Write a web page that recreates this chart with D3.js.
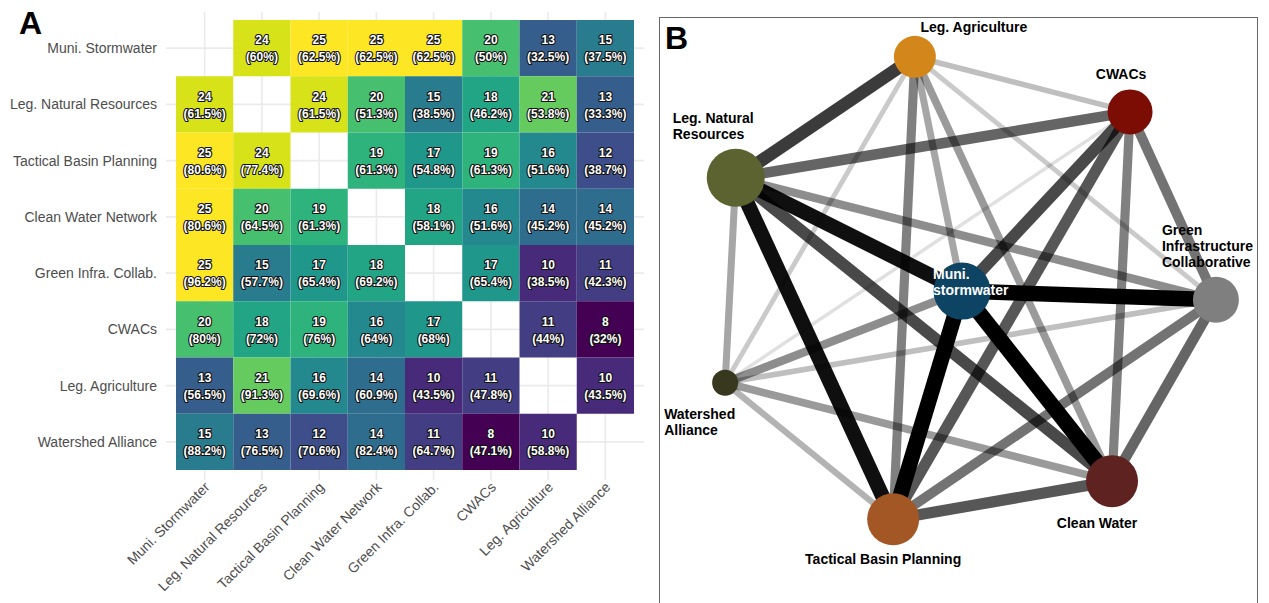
<!DOCTYPE html>
<html>
<head>
<meta charset="utf-8">
<script src="https://cdn.jsdelivr.net/npm/d3@7"></script>
<style>
  body { margin: 0; background: #fff; }
  svg { display: block; font-family: "Liberation Sans", Arial, Helvetica, sans-serif; }
</style>
</head>
<body>
<svg id="chart" width="1269" height="603"></svg>
<script>
// heatmap categories (rows and columns share the order)
const groups = ["Muni. Stormwater", "Leg. Natural Resources", "Tactical Basin Planning",
  "Clean Water Network", "Green Infra. Collab.", "CWACs", "Leg. Agriculture", "Watershed Alliance"];

// shared counts, row by row (null = diagonal / no tile)
const counts = [
  [null, 24, 25, 25, 25, 20, 13, 15],
  [24, null, 24, 20, 15, 18, 21, 13],
  [25, 24, null, 19, 17, 19, 16, 12],
  [25, 20, 19, null, 18, 16, 14, 14],
  [25, 15, 17, 18, null, 17, 10, 11],
  [20, 18, 19, 16, 17, null, 11, 8],
  [13, 21, 16, 14, 10, 11, null, 10],
  [15, 13, 12, 14, 11, 8, 10, null]
];

// percent labels as printed
const percents = [
  [null, "60%", "62.5%", "62.5%", "62.5%", "50%", "32.5%", "37.5%"],
  ["61.5%", null, "61.5%", "51.3%", "38.5%", "46.2%", "53.8%", "33.3%"],
  ["80.6%", "77.4%", null, "61.3%", "54.8%", "61.3%", "51.6%", "38.7%"],
  ["80.6%", "64.5%", "61.3%", null, "58.1%", "51.6%", "45.2%", "45.2%"],
  ["96.2%", "57.7%", "65.4%", "69.2%", null, "65.4%", "38.5%", "42.3%"],
  ["80%", "72%", "76%", "64%", "68%", null, "44%", "32%"],
  ["56.5%", "91.3%", "69.6%", "60.9%", "43.5%", "47.8%", null, "43.5%"],
  ["88.2%", "76.5%", "70.6%", "82.4%", "64.7%", "47.1%", "58.8%", null]
];

// network nodes, same order as groups
const nodeNames = [["Muni.", "stormwater"], ["Leg. Natural", "Resources"], ["Tactical Basin Planning"],
  ["Clean Water"], ["Green", "Infrastructure", "Collaborative"], ["CWACs"], ["Leg. Agriculture"], ["Watershed", "Alliance"]];
const nodeX = [48.5, 5.8, 35.5, 76.8, 96.4, 80.2, 39.6, 3.8];
const nodeY = [50.7, 28.7, 95.0, 87.6, 52.4, 15.9, 5.2, 68.5];
const nodeSize = [57, 58, 52, 52, 46, 45, 42, 26];
const nodeColors = ["#0e4463", "#5c6330", "#a35724", "#5e2320", "#7f7f7f", "#7b0d05", "#d3871a", "#38381e"];

const svg = d3.select("#chart");

// ---------- Panel A: heatmap ----------
const x = d3.scaleBand().domain(groups).range([176, 634]);
const y = d3.scaleBand().domain(groups).range([20, 470]);
const color = d3.scaleSequential(d3.interpolateViridis).domain([8, 25]);

const gA = svg.append("g");

// grid lines
gA.selectAll("line.vgrid").data(groups).enter().append("line")
  .attr("x1", d => x(d) + x.bandwidth() / 2).attr("x2", d => x(d) + x.bandwidth() / 2)
  .attr("y1", 12).attr("y2", 480)
  .attr("stroke", "#ebebeb").attr("stroke-width", 1.6);
gA.selectAll("line.hgrid").data(groups).enter().append("line")
  .attr("y1", d => y(d) + y.bandwidth() / 2).attr("y2", d => y(d) + y.bandwidth() / 2)
  .attr("x1", 166).attr("x2", 644)
  .attr("stroke", "#ebebeb").attr("stroke-width", 1.6);

const cells = [];
counts.forEach((row, i) => row.forEach((v, j) => {
  if (v != null) cells.push({ row: groups[i], col: groups[j], n: v, pct: percents[i][j] });
}));

gA.selectAll("rect.tile").data(cells).enter().append("rect")
  .attr("x", d => x(d.col)).attr("y", d => y(d.row))
  .attr("width", x.bandwidth()).attr("height", y.bandwidth())
  .attr("fill", d => color(d.n));

const lab = gA.selectAll("g.lab").data(cells).enter().append("g")
  .attr("transform", d => `translate(${x(d.col) + x.bandwidth() / 2},${y(d.row) + y.bandwidth() / 2})`)
  .attr("text-anchor", "middle")
  .style("font-size", "12px").style("font-weight", "bold")
  .attr("fill", "#fff").attr("stroke", "#111").attr("stroke-width", 2.2)
  .style("paint-order", "stroke").attr("stroke-linejoin", "round");
lab.append("text").attr("y", -8).attr("dy", "0.35em").text(d => d.n);
lab.append("text").attr("y", 9).attr("dy", "0.35em").text(d => `(${d.pct})`);

// y axis labels
gA.selectAll("text.ylab").data(groups).enter().append("text")
  .attr("x", 157).attr("y", d => y(d) + y.bandwidth() / 2).attr("dy", "0.35em")
  .attr("text-anchor", "end").style("font-size", "14px").attr("fill", "#4d4d4d")
  .text(d => d);

// x axis labels (rotated)
gA.selectAll("text.xlab").data(groups).enter().append("text")
  .attr("transform", d => `translate(${x(d) + x.bandwidth() / 2 + 6},${488}) rotate(-45)`)
  .attr("text-anchor", "end").style("font-size", "14px").attr("fill", "#4d4d4d")
  .text(d => d);

svg.append("text").attr("x", 19).attr("y", 34)
  .style("font-size", "32px").style("font-weight", "bold").text("A");

// ---------- Panel B: network ----------
const nx = d3.scaleLinear().domain([0, 100]).range([705, 1235]);
const ny = d3.scaleLinear().domain([0, 100]).range([30, 545]);
const nr = d3.scaleLinear().domain([0, 60]).range([0, 30]);
const ew = d3.scaleLinear().domain([8, 25]).range([3.5, 15.5]);
const eo = d3.scalePow().exponent(1.3).domain([8, 25]).range([0.12, 1]);

const gB = svg.append("g");
gB.append("rect").attr("x", 659.5).attr("y", 17.5).attr("width", 598).attr("height", 620)
  .attr("fill", "none").attr("stroke", "#666").attr("stroke-width", 1);

const nodes = groups.map((g, i) => ({ id: i, lines: nodeNames[i], x: nodeX[i], y: nodeY[i], s: nodeSize[i], c: nodeColors[i] }));
const edges = [];
for (let i = 0; i < groups.length; i++)
  for (let j = i + 1; j < groups.length; j++)
    edges.push({ s: nodes[i], t: nodes[j], w: counts[i][j] });
edges.sort((a, b) => a.w - b.w);

gB.selectAll("line.edge").data(edges).enter().append("line")
  .attr("x1", d => nx(d.s.x)).attr("y1", d => ny(d.s.y))
  .attr("x2", d => nx(d.t.x)).attr("y2", d => ny(d.t.y))
  .attr("stroke", "#000").attr("stroke-opacity", d => eo(d.w))
  .attr("stroke-width", d => ew(d.w));

gB.selectAll("circle.node").data(nodes).enter().append("circle")
  .attr("cx", d => nx(d.x)).attr("cy", d => ny(d.y)).attr("r", d => nr(d.s))
  .attr("fill", d => d.c);

// label placement relative to node centre: [dx, dy of first line, anchor, colour]
const labelPos = [
  [-29, -17, "start", "#fff"],
  [-63, -60, "start", "#000"],
  [-10, 40, "middle", "#000"],
  [-15, 42, "middle", "#000"],
  [-54, -70, "start", "#000"],
  [-9, -38, "middle", "#000"],
  [59, -30, "middle", "#000"],
  [-61, 31, "start", "#000"]
];

const nl = gB.selectAll("text.nlab").data(nodes).enter().append("text")
  .attr("x", d => nx(d.x) + labelPos[d.id][0])
  .attr("y", d => ny(d.y) + labelPos[d.id][1])
  .attr("text-anchor", d => labelPos[d.id][2])
  .attr("fill", d => labelPos[d.id][3])
  .style("font-size", "14px").style("font-weight", "bold");
nl.selectAll("tspan").data(d => d.lines.map(l => ({ l, d }))).enter().append("tspan")
  .attr("x", e => nx(e.d.x) + labelPos[e.d.id][0])
  .attr("dy", (e, k) => k === 0 ? "0.35em" : "1.15em")
  .text(e => e.l);

svg.append("text").attr("x", 665).attr("y", 49)
  .style("font-size", "32px").style("font-weight", "bold").text("B");
</script>
</body>
</html>
